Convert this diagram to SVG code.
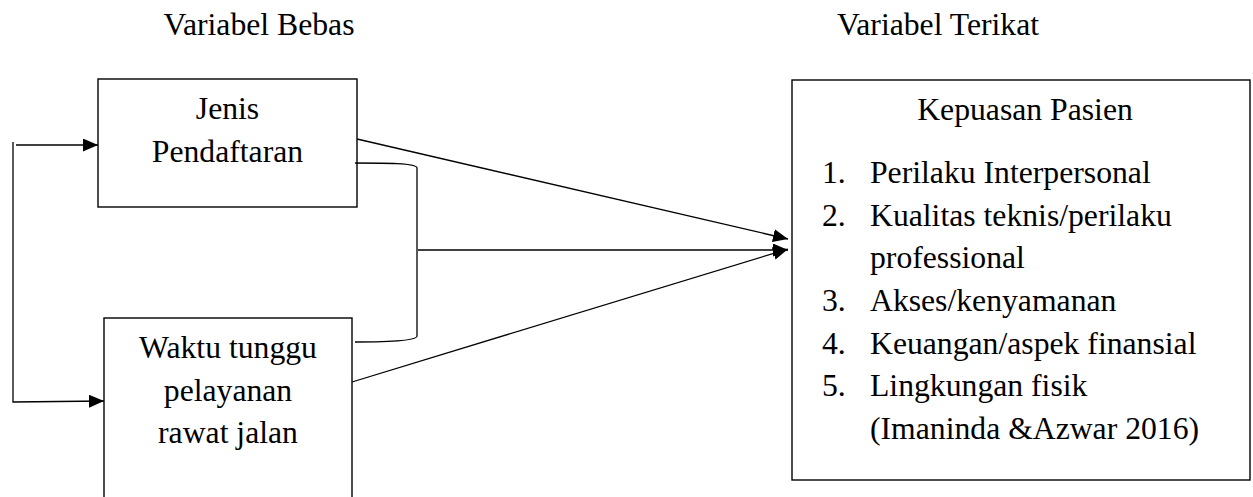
<svg xmlns="http://www.w3.org/2000/svg" width="1253" height="497" viewBox="0 0 1253 497">
<style>
.t{font-family:"Liberation Serif","Times New Roman",serif;font-size:31.7px;fill:#000}
.c{text-anchor:middle}
.box{fill:#fff;stroke:#000;stroke-width:1.4}
.ln{fill:none;stroke:#000;stroke-width:1.3}
</style>
<defs>
<marker id="ah" markerUnits="userSpaceOnUse" markerWidth="16" markerHeight="14" refX="15" refY="6.5" orient="auto">
<path d="M0,0 L15,6.5 L0,13 z" fill="#000"/>
</marker>
</defs>
<rect width="1253" height="497" fill="#fff"/>
<text class="t c" x="259" y="35">Variabel Bebas</text>
<text class="t c" x="938" y="35">Variabel Terikat</text>
<g id="jenis">
<rect class="box" x="98" y="79" width="259" height="128"/>
<text class="t c" x="227.5" y="119">Jenis</text>
<text class="t c" x="227.5" y="162">Pendaftaran</text>
</g>
<g id="waktu">
<rect class="box" x="104" y="318" width="248" height="200"/>
<text class="t c" x="228" y="358">Waktu tunggu</text>
<text class="t c" x="228" y="401">pelayanan</text>
<text class="t c" x="228" y="443">rawat jalan</text>
</g>
<g id="kepuasan">
<rect class="box" x="792" y="80" width="458" height="400"/>
<text class="t c" x="1025" y="120">Kepuasan Pasien</text>
<text class="t" x="822" y="183">1.</text>
<text class="t" x="870" y="183">Perilaku Interpersonal</text>
<text class="t" x="822" y="226">2.</text>
<text class="t" x="870" y="226">Kualitas teknis/perilaku</text>
<text class="t" x="870" y="268">professional</text>
<text class="t" x="822" y="311">3.</text>
<text class="t" x="870" y="311">Akses/kenyamanan</text>
<text class="t" x="822" y="354">4.</text>
<text class="t" x="870" y="354">Keuangan/aspek finansial</text>
<text class="t" x="822" y="396">5.</text>
<text class="t" x="870" y="396">Lingkungan fisik</text>
<text class="t" x="870" y="439">(Imaninda &amp;Azwar 2016)</text>
</g>
<g id="connectors">
<path class="ln" d="M13,142 L13,402 L104,401" marker-end="url(#ah)"/>
<path class="ln" d="M16,145 L98,145" marker-end="url(#ah)"/>
<path class="ln" d="M355,163 C385,163 417,163 417,168 L417,336 C417,341 385,342 355,342"/>
<path class="ln" d="M357,139 L788,239" marker-end="url(#ah)"/>
<path class="ln" d="M418,250 L788,250" marker-end="url(#ah)"/>
<path class="ln" d="M352,382 L788,249" marker-end="url(#ah)"/>
</g>
</svg>
